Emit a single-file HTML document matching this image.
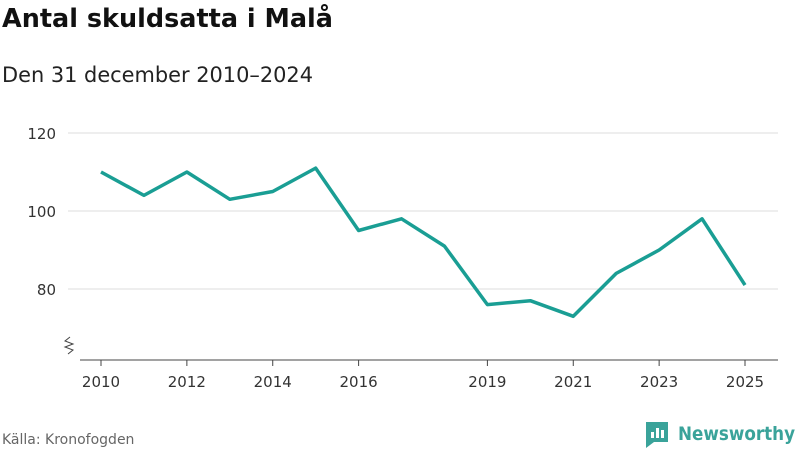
<!DOCTYPE html>
<html><head><meta charset="utf-8"><style>
body{margin:0;background:#fff;font-family:"Liberation Sans","DejaVu Sans",sans-serif;}
svg text{font-family:"DejaVu Sans","Liberation Sans",sans-serif;}
</style></head><body>
<svg id="c" width="800" height="450" viewBox="0 0 800 450">
<text x="2" y="27" font-size="26" font-weight="bold" fill="#111" textLength="331" lengthAdjust="spacingAndGlyphs">Antal skuldsatta i Malå</text>
<text x="2" y="82" font-size="21" fill="#222" textLength="311" lengthAdjust="spacingAndGlyphs">Den 31 december 2010–2024</text>
<g id="grid"></g><g id="xaxis"></g>
<path d="M70 337 l-5 4 l8 3 l-8 3 l8 3 l-5 4" stroke="#444" fill="none" stroke-width="1"/>
<line x1="80" y1="360" x2="778" y2="360" stroke="#444"/>
<g id="series"></g>
<text x="2" y="444" font-size="14" fill="#666">Källa: Kronofogden</text>
<g>
<path d="M646 422 h22 v20 h-14 l-8 6 z" fill="#3aa39a"/>
<rect x="651" y="432" width="3" height="6" fill="#fff"/><rect x="656" y="428" width="3" height="10" fill="#fff"/><rect x="661" y="430" width="3" height="8" fill="#fff"/>
<text x="678" y="440" font-size="19" font-weight="bold" fill="#3aa39a" textLength="117" lengthAdjust="spacingAndGlyphs">Newsworthy</text>
</g>
</svg>
<script>
const years=[2010,2011,2012,2013,2014,2015,2016,2017,2018,2019,2020,2021,2022,2023,2024,2025];
const values=[110,104,110,103,105,111,95,98,91,76,77,73,84,90,98,81];
const yTicks=[80,100,120];
const xTicks=[2010,2012,2014,2016,2019,2021,2023,2025];
const NS="http://www.w3.org/2000/svg";
const x=y=>101+(y-2010)*(745-101)/15;
const yv=v=>289-(v-80)*3.9;
function mk(t,a,p){const e=document.createElementNS(NS,t);for(const k in a)e.setAttribute(k,a[k]);p.appendChild(e);return e;}
const g=document.getElementById('grid');
yTicks.forEach(v=>{
const l=mk('line',{x1:68,x2:778,y1:yv(v),y2:yv(v),stroke:'#ddd'},g);


const t=mk('text',{x:56,y:yv(v)+6,'font-size':15,fill:'#333','text-anchor':'end'},g);t.textContent=v;


});
const xa=document.getElementById('xaxis');
xTicks.forEach(yr=>{
const l=mk('line',{x1:x(yr),x2:x(yr),y1:360,y2:366,stroke:'#444'},xa);


const t=mk('text',{x:x(yr),y:387,'font-size':15,fill:'#333','text-anchor':'middle'},xa);t.textContent=yr;


});
const s=document.getElementById('series');
const p=mk('path',{d:years.map((yr,i)=>(i?'L':'M')+x(yr)+' '+yv(values[i])).join(' '),fill:'none',stroke:'#1a9e94','stroke-width':3.5,'stroke-linejoin':'round'},s);


</script>
</body></html>
